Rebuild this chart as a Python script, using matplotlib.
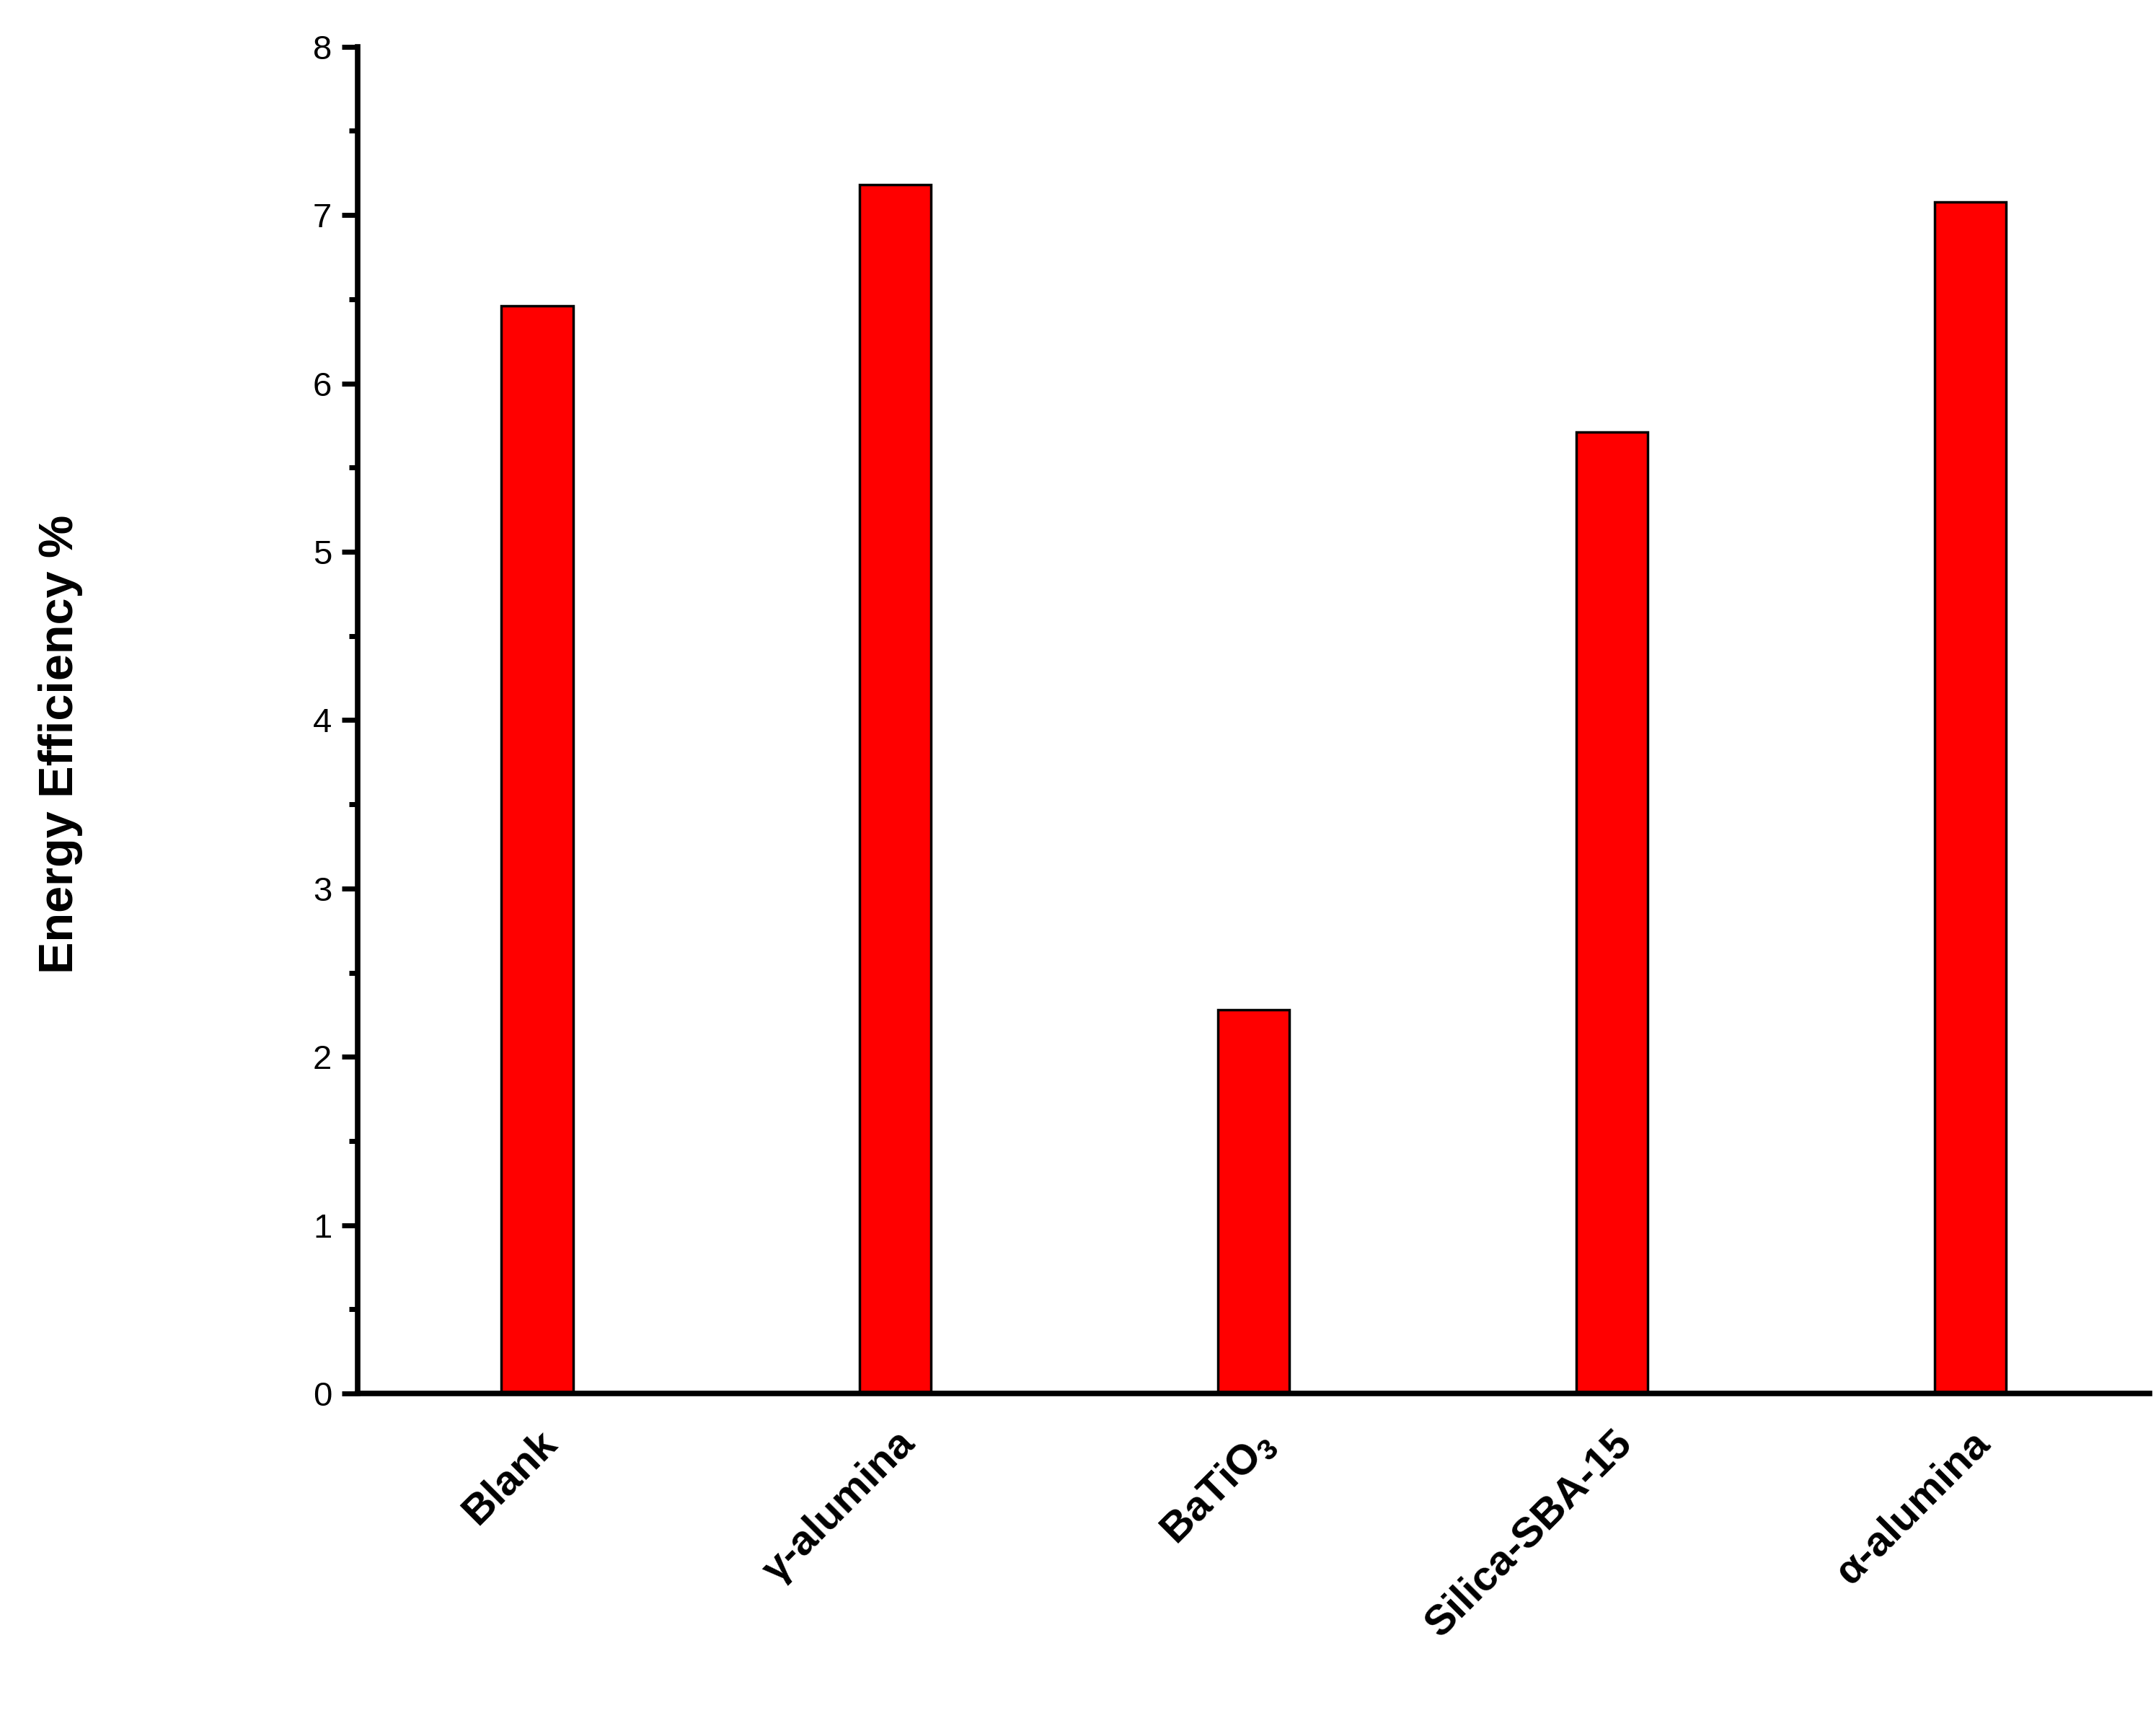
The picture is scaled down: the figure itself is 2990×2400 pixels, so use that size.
import matplotlib
matplotlib.use("Agg")
import matplotlib.pyplot as plt
from matplotlib.ticker import MultipleLocator

plt.rcParams["font.family"] = ["Liberation Sans", "DejaVu Sans"]
plt.rcParams["mathtext.fontset"] = "custom"
plt.rcParams["mathtext.rm"] = "Liberation Sans"
plt.rcParams["mathtext.bf"] = "Liberation Sans:bold"

categories = ["Blank", "\u03b3-alumina", r"BaTiO$_\mathbf{3}$", "Silica-SBA-15", "\u03b1-alumina"]
efficiency = [6.46, 7.18, 2.28, 5.71, 7.08]

fig = plt.figure(figsize=(29.9, 24), dpi=100)
ax = fig.add_axes([0.166, 0.195, 0.831, 0.778])

x = range(len(categories))
ax.bar(x, efficiency, width=0.2, color="#ff0000", edgecolor="black", linewidth=2.5)

ax.set_xlim(-0.5, 4.5)
ax.set_ylim(0, 8)
ax.yaxis.set_major_locator(MultipleLocator(1))
ax.yaxis.set_minor_locator(MultipleLocator(0.5))

for s in ["top", "right"]:
    ax.spines[s].set_visible(False)
for s in ["left", "bottom"]:
    ax.spines[s].set_linewidth(5.5)

ax.tick_params(axis="y", which="major", direction="out", length=16, width=5, labelsize=34, pad=10)
ax.tick_params(axis="y", which="minor", direction="out", length=9, width=5)
ax.tick_params(axis="x", length=0, pad=30)

ax.set_xticks(list(x))
ax.set_xticklabels(categories, rotation=45, ha="right", rotation_mode="anchor",
                   fontsize=42, fontweight="bold")

fig.text(0.028, 0.57, "Energy Efficiency %", rotation=90, ha="center", va="center",
         fontsize=48, fontweight="bold")

fig.savefig("out.png", dpi=100)
